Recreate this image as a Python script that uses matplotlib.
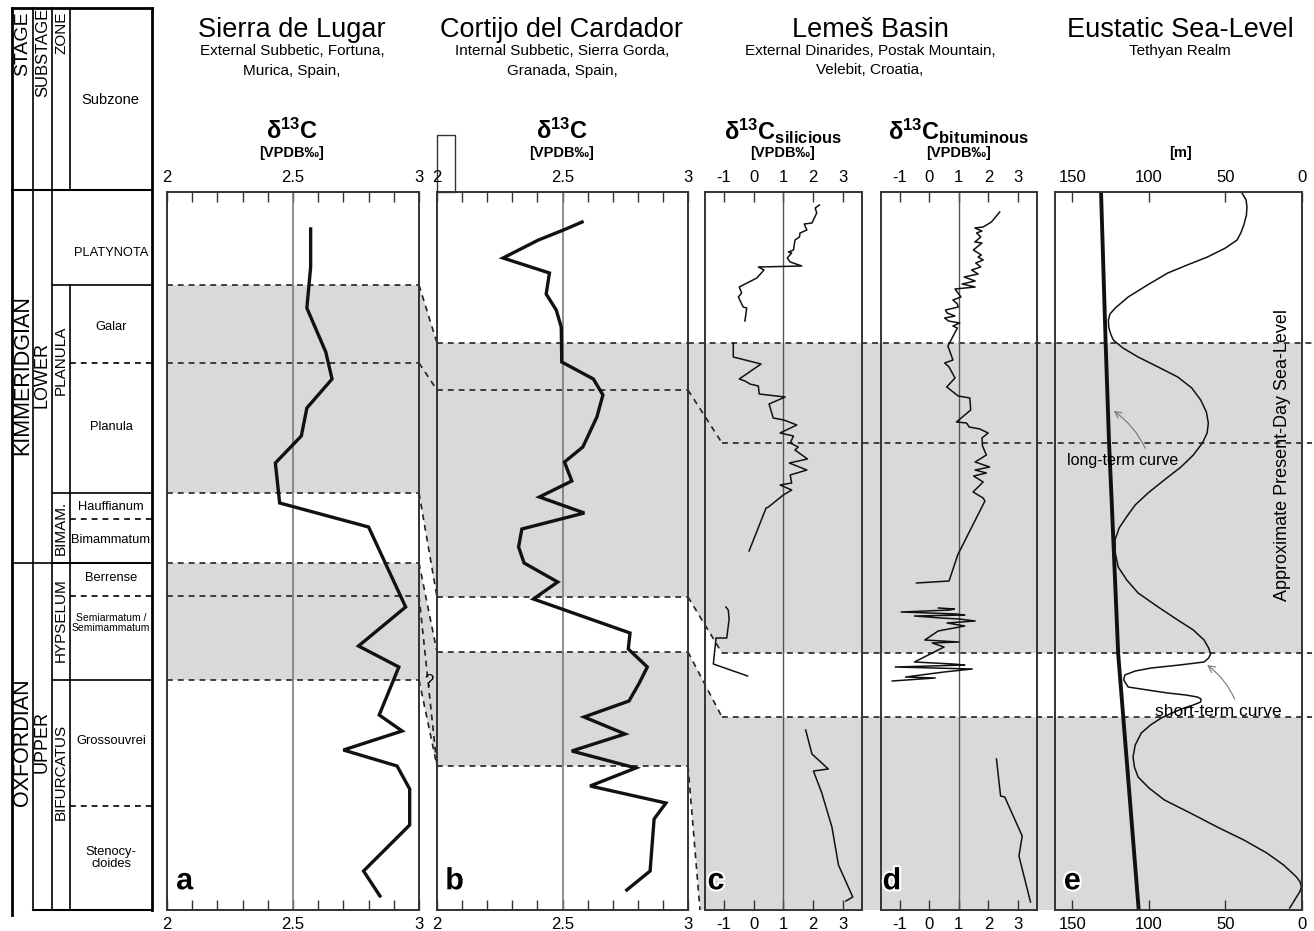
import numpy as np
import matplotlib.pyplot as plt
import matplotlib.patheffects as pe
from matplotlib.patches import Polygon, Rectangle

plt.rcParams['font.family'] = ['Liberation Sans', 'DejaVu Sans']
plt.rcParams['mathtext.fontset'] = 'custom'
plt.rcParams['mathtext.rm'] = 'Liberation Sans:bold'
plt.rcParams['mathtext.it'] = 'Liberation Sans:bold'
plt.rcParams['mathtext.bf'] = 'Liberation Sans:bold'

# ---- stratigraphic levels (common vertical scale, top = 192, base = 910) ----
stages = ['KIMMERIDGIAN', 'OXFORDIAN']
substages = ['LOWER', 'UPPER']
stage_mid = [375, 742]
stage_break = 563
zones = ['PLANULA', 'BIMAM.', 'HYPSELUM', 'BIFURCATUS']
zone_mid = [360, 528, 620, 772]
zone_tops = [285, 493, 563, 680]
subzones = ['PLATYNOTA', 'Galar', 'Planula', 'Hauffianum', 'Bimammatum', 'Berrense',
            'Semiarmatum /\nSemimammatum', 'Grossouvrei', 'Stenocy-\ncloides']
subzone_mid = [253, 327, 427, 507, 540, 578, 623, 741, 858]
subzone_breaks = [363, 519, 596, 806]

# correlation levels
a_gray = [(285, 493), (563, 680)]
a_lines = [285, 363, 493, 563, 596, 680]
b_gray = [(343, 597), (652, 766)]
b_lines = [343, 390, 597, 652, 766]
cde_lines = [343, 443, 653, 717]
ties_ab = [(285, 343), (363, 390), (493, 597), (563, 652), (596, 766), (680, 766)]
ties_bc = [(390, 443), (597, 653), (652, 717), (766, 910)]

# ---- a: Sierra de Lugar ----
a_level = [229, 267, 308, 352, 379, 408, 436, 463, 503, 527, 607, 646, 667, 715, 731,
           750, 766, 789, 825, 871, 896]
a_d13c = [2.57, 2.57, 2.555, 2.63, 2.655, 2.555, 2.533, 2.43, 2.447, 2.80, 2.947, 2.76,
          2.92, 2.842, 2.933, 2.70, 2.913, 2.963, 2.963, 2.78, 2.845]

# ---- b: Cortijo del Cardador ----
b_level = [222, 230, 240, 258, 273, 294, 310, 327, 362, 379, 395, 417, 447, 462, 481, 497,
           513, 529, 547, 563, 582, 599, 633, 649, 667, 683, 701, 717, 734, 751, 768, 786,
           803, 819, 871, 890]
b_d13c = [2.578, 2.504, 2.404, 2.263, 2.448, 2.435, 2.475, 2.495, 2.497, 2.623, 2.661,
          2.637, 2.581, 2.508, 2.537, 2.408, 2.587, 2.338, 2.325, 2.347, 2.481, 2.384,
          2.769, 2.762, 2.838, 2.806, 2.765, 2.586, 2.749, 2.537, 2.792, 2.610, 2.912,
          2.865, 2.849, 2.756]

# ---- c: Lemes, siliceous ----
c1_level = [205, 208, 213, 223, 224, 230, 233, 237, 240, 250, 252, 253, 258, 262, 266, 267,
            270, 278, 287, 293, 297, 307, 308, 321]
c1_val = [2.21, 2.07, 2.12, 1.96, 1.70, 1.79, 1.56, 1.54, 1.39, 1.34, 1.17, 1.28, 1.13,
          1.23, 1.62, 0.16, 0.35, 0.11, -0.48, -0.40, -0.51, -0.35, -0.23, -0.29]
c2_level = [343, 357, 364, 379, 381, 384, 386, 394, 397, 404, 418, 420, 425, 433, 436, 443,
            447, 450, 459, 463, 470, 475, 483, 485, 490, 495, 507, 508, 551]
c2_val = [-0.68, -0.68, 0.25, -0.48, -0.29, -0.12, 0.16, 0.19, 1.06, 0.52, 0.66, 1.02,
          1.45, 0.89, 1.34, 1.23, 1.50, 1.39, 1.81, 1.20, 1.79, 1.23, 1.28, 0.89, 1.28,
          1.00, 0.50, 0.42, -0.15]
c3_level = [607, 610, 619, 638, 638, 664, 676]
c3_val = [-0.93, -0.85, -0.82, -0.90, -1.26, -1.35, -0.20]
c4_level = [730, 754, 769, 771, 793, 827, 865, 897, 901]
c4_val = [1.75, 1.96, 2.51, 2.01, 2.29, 2.63, 2.85, 3.33, 3.10]

# ---- d: Lemes, bituminous ----
d1_level = [212, 222, 227, 228, 231, 233, 237, 242, 243, 250, 255, 257, 260, 263, 267, 270,
            274, 277, 281, 284, 287, 289, 297, 300, 304, 307, 310, 313, 316, 318, 321, 323,
            326, 328, 346, 360, 363, 367, 378, 387, 396, 398, 410, 422, 423, 427, 429, 433,
            438, 446, 455, 462, 467, 470, 473, 476, 482, 492, 498, 501, 555, 581, 583]
d1_val = [2.38, 2.10, 1.82, 1.54, 1.78, 1.60, 1.74, 1.54, 1.78, 1.49, 1.76, 1.65, 1.82,
          1.57, 1.74, 1.43, 1.65, 1.18, 1.55, 1.11, 1.55, 0.87, 1.07, 0.80, 0.95, 0.98,
          0.55, 0.60, 0.87, 0.52, 0.65, 1.03, 0.80, 0.95, 0.63, 0.80, 0.52, 0.67, 0.87,
          0.59, 0.98, 1.37, 1.40, 0.92, 1.26, 1.35, 1.71, 1.99, 1.78, 1.80, 1.93, 1.55,
          2.04, 1.55, 1.93, 1.50, 1.82, 1.48, 1.82, 1.88, 0.96, 0.67, -0.43]
d2_level = [608, 609, 610, 612, 613, 614, 615, 616, 618, 619, 621, 623, 626, 631, 640, 642,
            643, 647, 662, 664, 665, 667, 669, 672, 677, 678, 681]
d2_val = [0.31, 0.85, 0.70, -0.95, 0.0, 0.90, 1.20, -0.5, 0.4, 1.0, 1.55, 0.6, 1.2, 0.3,
          -0.15, 1.0, 0.1, 0.5, -0.5, 0.8, 1.2, -1.15, 1.45, 0.5, -0.8, 0.2, -1.25]
d3_level = [759, 796, 797, 836, 856, 902]
d3_val = [2.27, 2.41, 2.55, 3.14, 3.03, 3.42]

# ---- e: eustatic sea level (m below present-day) ----
long_level = [193, 343, 442, 500, 654, 910]
long_m = [131.3, 128.3, 126.1, 124.4, 120.1, 106.7]
short_level = [193, 200, 207, 215, 225, 233, 240, 248, 257, 265, 273, 285, 297, 308, 314,
               320, 327, 334, 340, 348, 357, 367, 377, 388, 400, 412, 423, 433, 443, 455,
               467, 480, 493, 505, 517, 528, 540, 553, 567, 580, 593, 607, 620, 630, 640,
               648, 654, 658, 662, 665, 668, 671, 675, 680, 687, 690, 693, 695, 697, 699,
               702, 705, 708, 713, 718, 725, 733, 745, 757, 767, 777, 788, 800, 813, 827,
               840, 853, 865, 877, 882, 887, 892, 897, 903, 908]
short_m = [39.2, 36.5, 36.0, 36.3, 38.0, 40.0, 42.4, 50.0, 61.8, 75.0, 87.7, 101.0, 113.6,
           122.0, 125.5, 126.5, 126.3, 125.0, 123.3, 117.0, 107.1, 94.0, 81.2, 72.0, 66.2,
           62.5, 61.2, 62.0, 65.1, 71.0, 79.1, 90.0, 100.6, 109.0, 114.7, 119.5, 122.2,
           122.0, 120.1, 114.5, 107.1, 94.0, 81.2, 71.0, 64.0, 61.0, 59.7, 61.0, 64.0,
           80.0, 98.5, 109.0, 115.8, 116.5, 113.6, 101.0, 87.7, 76.0, 68.3, 66.0, 66.2,
           71.0, 77.0, 85.0, 92.0, 99.0, 105.0, 109.0, 110.4, 109.5, 107.1, 100.0, 89.9,
           73.0, 55.4, 38.0, 23.0, 12.0, 3.6, 1.2, 0.4, 1.5, 3.6, 6.0, 8.0]

# ---- layout ----
W, H = 1314, 931
TOP, BOT = 192, 910
PX = {'a': (167, 419), 'b': (437, 688), 'c': (705, 862), 'd': (881, 1037), 'e': (1055, 1302)}
GRAY = '#d9d9d9'
EDGE = '#333333'
dash = (0, (3.5, 3))

fig = plt.figure(figsize=(W / 100, H / 100), dpi=100)
ov = fig.add_axes([0, 0, 1, 1])
ov.set_xlim(0, W)
ov.set_ylim(H, 0)
ov.axis('off')
ov.set_zorder(0)

# shaded intervals
for y0, y1 in a_gray:
    ov.add_patch(Rectangle((PX['a'][0], y0), PX['a'][1] - PX['a'][0], y1 - y0, color=GRAY, lw=0))
for y0, y1 in b_gray:
    ov.add_patch(Rectangle((PX['b'][0], y0), PX['b'][1] - PX['b'][0], y1 - y0, color=GRAY, lw=0))
xa, xb = PX['a'][1], PX['b'][0]
ov.add_patch(Polygon([(xa, 285), (xb, 343), (xb, 597), (xa, 493)], color=GRAY, lw=0))
ov.add_patch(Polygon([(xa, 563), (xb, 652), (xb, 766), (xa, 680)], color=GRAY, lw=0))
xb1, xk = PX['b'][1], PX['c'][0] + 17
ov.add_patch(Polygon([(xb1, 343), (PX['e'][1], 343), (PX['e'][1], 653), (xk, 653), (xb1, 597)],
                     color=GRAY, lw=0))
ov.add_patch(Polygon([(xb1, 652), (xk, 717), (PX['e'][1], 717), (PX['e'][1], BOT),
                      (PX['c'][0] - 5, BOT), (xb1, 766)], color=GRAY, lw=0))

# correlation lines
dkw = dict(color='#222222', lw=1.2, ls=dash)
for y in a_lines:
    ov.plot(PX['a'], [y, y], **dkw)
for y0, y1 in ties_ab:
    ov.plot([xa, xb], [y0, y1], **dkw)
for y in b_lines:
    ov.plot(PX['b'], [y, y], **dkw)
ov.plot([xb1, W - 2], [343, 343], **dkw)
for y0, y1 in ties_bc:
    x_end = xk if y1 < BOT else PX['c'][0] - 5
    ov.plot([xb1, x_end], [y0, y1], **dkw)
for y in cde_lines[1:]:
    ov.plot([xk, W - 2], [y, y], **dkw)
ov.text(429, 681, '?', ha='center', va='center', fontsize=12)

# ---- stratigraphic column ----
ck = dict(color='black')
ov.plot([12, 12], [8, 915], lw=2, **ck)
ov.plot([33, 33], [8, 910], lw=1.2, **ck)
ov.plot([52, 52], [8, 910], lw=1.2, **ck)
ov.plot([70, 70], [8, 190], lw=1.2, **ck)
ov.plot([70, 70], [285, 910], lw=1.2, **ck)
ov.plot([152, 152], [8, 910], lw=2, **ck)
ov.plot([12, 152], [8, 8], lw=2, **ck)
ov.plot([12, 152], [190, 190], lw=1.5, **ck)
ov.plot([33, 152], [910, 910], lw=1.5, **ck)
ov.plot([12, 152], [stage_break, stage_break], lw=1.2, **ck)
for y in zone_tops:
    ov.plot([52, 152], [y, y], lw=1.2, **ck)
for y in subzone_breaks:
    ov.plot([70, 152], [y, y], lw=1.2, ls=dash, **ck)

ov.text(22.5, 44, 'STAGE', rotation=90, ha='center', va='center', fontsize=14)
ov.text(42.5, 52, 'SUBSTAGE', rotation=90, ha='center', va='center', fontsize=12)
ov.text(61, 33, 'ZONE', rotation=90, ha='center', va='center', fontsize=11)
ov.text(110, 100, 'Subzone', ha='center', va='center', fontsize=10.5)
for name, sub, y in zip(stages, substages, stage_mid):
    ov.text(23, y, name, rotation=90, ha='center', va='center', fontsize=15.5)
    ov.text(42.5, y, sub, rotation=90, ha='center', va='center', fontsize=13)
for name, y in zip(zones, zone_mid):
    ov.text(61, y, name, rotation=90, ha='center', va='center', fontsize=11)
for name, y in zip(subzones, subzone_mid):
    fs = 7.5 if '/' in name else 9.3
    ov.text(111, y, name, ha='center', va='center', fontsize=fs, linespacing=0.9)

# ---- headers ----
heads = [(292, 'Sierra de Lugar', 'External Subbetic, Fortuna,\nMurica, Spain,'),
         (562, 'Cortijo del Cardador', 'Internal Subbetic, Sierra Gorda,\nGranada, Spain,'),
         (870, 'Lemeš Basin', 'External Dinarides, Postak Mountain,\nVelebit, Croatia,'),
         (1180, 'Eustatic Sea-Level', 'Tethyan Realm')]
for x, t, s in heads:
    ov.text(x, 30, t, ha='center', va='center', fontsize=19.5)
    ov.text(x, 44, s, ha='center', va='top', fontsize=11, linespacing=1.5)

units = [(292, r'$\mathrm{δ^{13}C}$'), (562, r'$\mathrm{δ^{13}C}$'),
         (783, r'$\mathrm{δ^{13}C_{silicious}}$'), (959, r'$\mathrm{δ^{13}C_{bituminous}}$')]
for x, t in units:
    ov.text(x, 131, t, ha='center', va='center', fontsize=17)
    ov.text(x, 153, '[VPDB‰]', ha='center', va='center', fontsize=10.5, weight='bold')
ov.text(1180, 153, '[m]', ha='center', va='center', fontsize=10.5, weight='bold')
ov.add_patch(Rectangle((437, 135), 18, TOP - 135, fill=False, lw=1, ec=EDGE))


def panel(key, xlim):
    x0, x1 = PX[key]
    ax = fig.add_axes([x0 / W, 1 - BOT / H, (x1 - x0) / W, (BOT - TOP) / H])
    ax.set_zorder(2)
    ax.patch.set_visible(False)
    ax.set_xlim(*xlim)
    ax.set_ylim(BOT, TOP)
    ax.set_yticks([])
    for s in ax.spines.values():
        s.set_color(EDGE)
        s.set_linewidth(1.4)
    ax.tick_params(axis='x', direction='in', length=7, width=1, color=EDGE, top=True,
                   bottom=True, labeltop=True, labelbottom=True, labelsize=12, pad=5)
    ax.text(0.07, 0.04, key, transform=ax.transAxes, fontsize=22, weight='bold',
            ha='center', va='center',
            path_effects=[pe.withStroke(linewidth=3, foreground='white')])
    return ax


for key, lev, val in [('a', a_level, a_d13c), ('b', b_level, b_d13c)]:
    ax = panel(key, (2, 3))
    ticks = np.round(np.arange(2, 3.001, 0.1), 1)
    ax.set_xticks(ticks)
    ax.set_xticklabels(['2' if t == 2 else '2.5' if t == 2.5 else '3' if t == 3 else '' for t in ticks])
    ax.axvline(2.5, color='#7a7a7a', lw=1.2)
    ax.plot(val, lev, color='#111111', lw=2.4, solid_joinstyle='miter')

for key, segs in [('c', [(c1_level, c1_val), (c2_level, c2_val), (c3_level, c3_val), (c4_level, c4_val)]),
                  ('d', [(d1_level, d1_val), (d2_level, d2_val), (d3_level, d3_val)])]:
    ax = panel(key, (-1.63, 3.64))
    ax.set_xticks([-1, 0, 1, 2, 3])
    ax.set_xticklabels(['-1', '0', '1', '2', '3'])
    ax.axvline(1, color='#555555', lw=1)
    for lev, val in segs:
        ax.plot(val, lev, color='#111111', lw=1.1)

ax = panel('e', (161.4, 0))
ax.set_xticks([150, 100, 50, 0])
ax.set_xticklabels(['150', '100', '50', '0'])
ax.plot(long_m, long_level, color='#111111', lw=2.8)
ax.plot(short_m, short_level, color='#111111', lw=1.1)
ax.text(0.92, 0.634, 'Approximate Present-Day Sea-Level', transform=ax.transAxes, rotation=90,
        ha='center', va='center', fontsize=13)
ax.annotate('long-term curve', xy=(123, 411), xytext=(117, 461), ha='center', va='center',
            fontsize=11.5,
            arrowprops=dict(arrowstyle='->', color='#777777', lw=0.8, shrinkB=0,
                            connectionstyle='arc3,rad=0.15', relpos=(0.72, 1.0)))
ax.annotate('short-term curve', xy=(62, 665), xytext=(55, 712), ha='center', va='center',
            fontsize=12.5,
            arrowprops=dict(arrowstyle='->', color='#777777', lw=0.8, shrinkB=0,
                            connectionstyle='arc3,rad=0.15', relpos=(0.65, 1.0)))

fig.savefig('out.png', dpi=100)
